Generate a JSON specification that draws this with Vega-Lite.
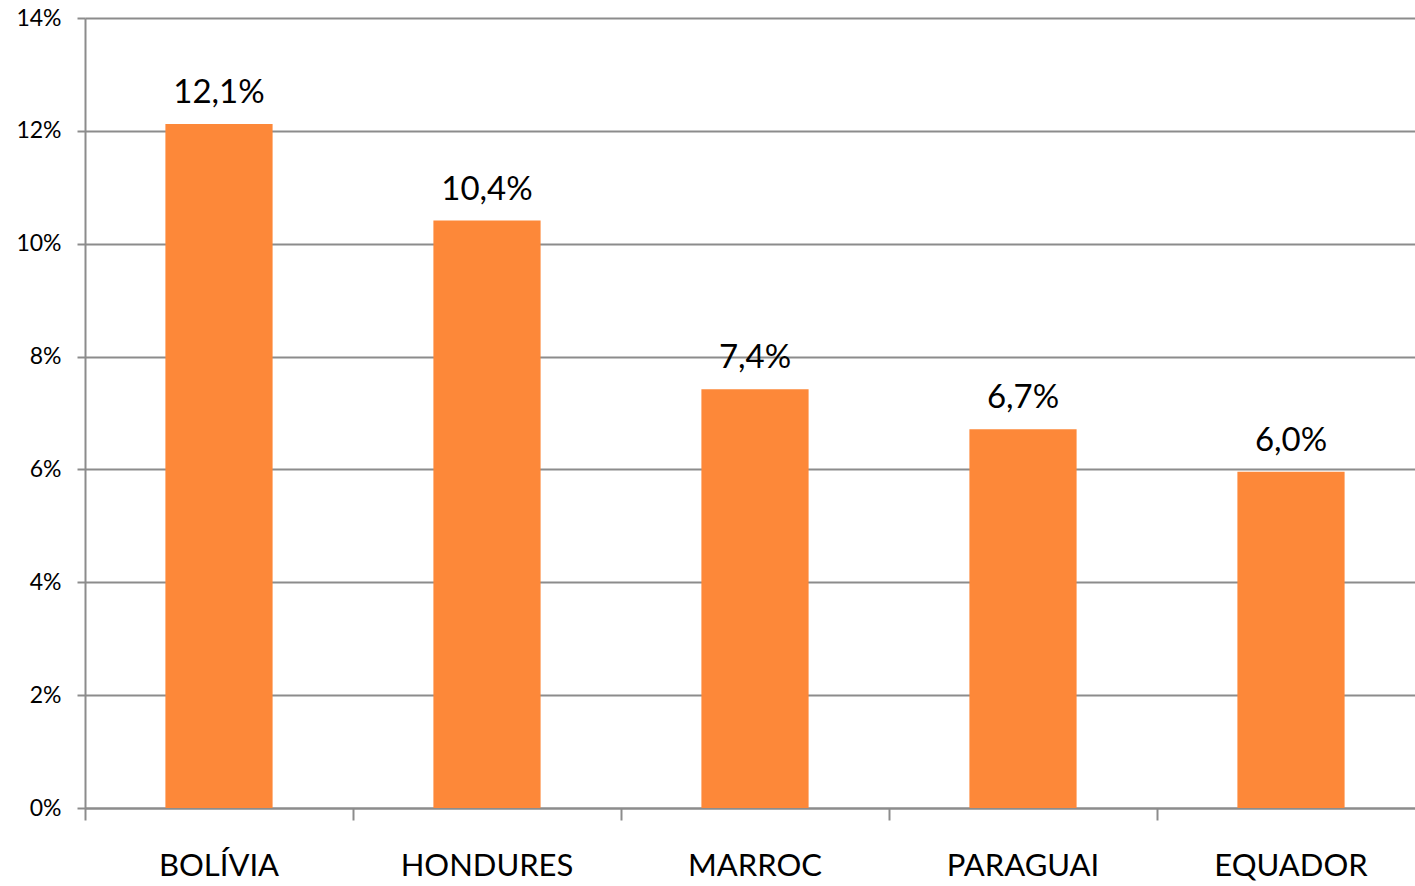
{
  "$schema": "https://vega.github.io/schema/vega-lite/v6.json",
  "width": 1340,
  "height": 790,
  "autosize": {"type": "none"},
  "padding": {"left": 85, "top": 18, "right": 0, "bottom": 78},
  "background": "white",
  "config": {
    "locale": {"number": {"decimal": ",", "thousands": ".", "grouping": [3], "currency": ["", ""]}},
    "view": {"stroke": null},
    "font": "Lato"
  },
  "data": {
    "values": [
      {"pais": "BOLÍVIA", "valor": 0.1212},
      {"pais": "HONDURES", "valor": 0.1041},
      {"pais": "MARROC", "valor": 0.0742},
      {"pais": "PARAGUAI", "valor": 0.0671},
      {"pais": "EQUADOR", "valor": 0.0596}
    ]
  },
  "encoding": {
    "x": {
      "field": "pais", "type": "nominal", "sort": null,
      "scale": {"paddingInner": 0, "paddingOuter": 0},
      "axis": {
        "title": null, "labelAngle": 0, "labelFontSize": 31, "labelColor": "#000000",
        "labelPadding": 31, "tickSize": 12, "tickColor": "#8c8c8c", "tickWidth": 2,
        "bandPosition": 0, "domainColor": "#8c8c8c", "domainWidth": 2, "grid": false
      }
    },
    "y": {
      "field": "valor", "type": "quantitative",
      "scale": {"domain": [0, 0.14]},
      "axis": {
        "title": null, "format": ".0%", "values": [0, 0.02, 0.04, 0.06, 0.08, 0.1, 0.12, 0.14],
        "labelFontSize": 23, "labelColor": "#000000", "labelPadding": 16,
        "tickSize": 8, "tickColor": "#8c8c8c", "tickWidth": 2,
        "domainColor": "#8c8c8c", "domainWidth": 2,
        "grid": true, "gridColor": "#8c8c8c", "gridWidth": 2
      }
    }
  },
  "layer": [
    {"mark": {"type": "bar", "color": "#FD8839", "width": {"band": 0.4}}},
    {
      "mark": {"type": "text", "baseline": "bottom", "dy": -14, "fontSize": 33, "color": "#000000"},
      "encoding": {"text": {"field": "valor", "type": "quantitative", "format": ".1%"}}
    }
  ]
}
